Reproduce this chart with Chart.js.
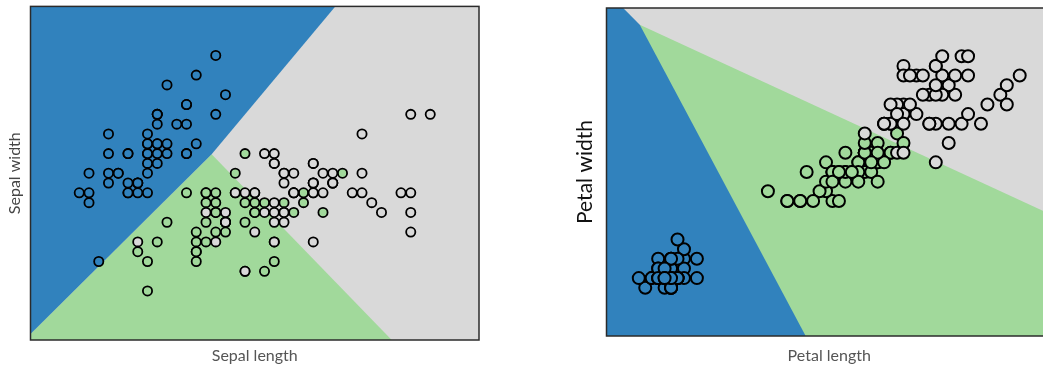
<!DOCTYPE html>
<html>
<head>
<meta charset="utf-8">
<script src="https://cdn.jsdelivr.net/npm/chart.js@4.4.1/dist/chart.umd.min.js"></script>
<style>
  html, body { margin: 0; padding: 0; background: #fff; overflow: hidden; width: 1043px; height: 367px; }
  #sepal { position: absolute; left: 0; top: 0; }
  #petal { position: absolute; left: 560px; top: 0; }
</style>
</head>
<body>
<canvas id="sepal" width="500" height="367"></canvas>
<canvas id="petal" width="500" height="367"></canvas>
<script>
// Iris measurements (cm), one array per species and feature
const setosaSL = [5.1,4.9,4.7,4.6,5.0,5.4,4.6,5.0,4.4,4.9,5.4,4.8,4.8,4.3,5.8,5.7,5.4,5.1,5.7,5.1,5.4,5.1,4.6,5.1,4.8,5.0,5.0,5.2,5.2,4.7,4.8,5.4,5.2,5.5,4.9,5.0,5.5,4.9,4.4,5.1,5.0,4.5,4.4,5.0,5.1,4.8,5.1,4.6,5.3,5.0];
const setosaSW = [3.5,3.0,3.2,3.1,3.6,3.9,3.4,3.4,2.9,3.1,3.7,3.4,3.0,3.0,4.0,4.4,3.9,3.5,3.8,3.8,3.4,3.7,3.6,3.3,3.4,3.0,3.4,3.5,3.4,3.2,3.1,3.4,4.1,4.2,3.1,3.2,3.5,3.1,3.0,3.4,3.5,2.3,3.2,3.5,3.8,3.0,3.8,3.2,3.7,3.3];
const setosaPL = [1.4,1.4,1.3,1.5,1.4,1.7,1.4,1.5,1.4,1.5,1.5,1.6,1.4,1.1,1.2,1.5,1.3,1.4,1.7,1.5,1.7,1.5,1.0,1.7,1.9,1.6,1.6,1.5,1.4,1.6,1.6,1.5,1.5,1.4,1.5,1.2,1.3,1.5,1.3,1.5,1.3,1.3,1.3,1.6,1.9,1.4,1.6,1.4,1.5,1.4];
const setosaPW = [0.2,0.2,0.2,0.2,0.2,0.4,0.3,0.2,0.2,0.1,0.2,0.2,0.1,0.1,0.2,0.4,0.4,0.3,0.3,0.3,0.2,0.4,0.2,0.5,0.2,0.2,0.4,0.2,0.2,0.2,0.2,0.4,0.1,0.2,0.1,0.2,0.2,0.1,0.2,0.2,0.3,0.3,0.2,0.6,0.4,0.3,0.2,0.2,0.2,0.2];

const versicolorSL = [7.0,6.4,6.9,5.5,6.5,5.7,6.3,4.9,6.6,5.2,5.0,5.9,6.0,6.1,5.6,6.7,5.6,5.8,6.2,5.6,5.9,6.1,6.3,6.1,6.4,6.6,6.8,6.7,6.0,5.7,5.5,5.5,5.8,6.0,5.4,6.0,6.7,6.3,5.6,5.5,5.5,6.1,5.8,5.0,5.6,5.7,5.7,6.2,5.1,5.7];
const versicolorSW = [3.2,3.2,3.1,2.3,2.8,2.8,3.3,2.4,2.9,2.7,2.0,3.0,2.2,2.9,2.9,3.1,3.0,2.7,2.2,2.5,3.2,2.8,2.5,2.8,2.9,3.0,2.8,3.0,2.9,2.6,2.4,2.4,2.7,2.7,3.0,3.4,3.1,2.3,3.0,2.5,2.6,3.0,2.6,2.3,2.7,3.0,2.9,2.9,2.5,2.8];
const versicolorPL = [4.7,4.5,4.9,4.0,4.6,4.5,4.7,3.3,4.6,3.9,3.5,4.2,4.0,4.7,3.6,4.4,4.5,4.1,4.5,3.9,4.8,4.0,4.9,4.7,4.3,4.4,4.8,5.0,4.5,3.5,3.8,3.7,3.9,5.1,4.5,4.5,4.7,4.4,4.1,4.0,4.4,4.6,4.0,3.3,4.2,4.2,4.2,4.3,3.0,4.1];
const versicolorPW = [1.4,1.5,1.5,1.3,1.5,1.3,1.6,1.0,1.3,1.4,1.0,1.5,1.0,1.4,1.3,1.4,1.5,1.0,1.5,1.1,1.8,1.3,1.5,1.2,1.3,1.4,1.4,1.7,1.5,1.0,1.1,1.0,1.2,1.6,1.5,1.6,1.5,1.3,1.3,1.3,1.2,1.4,1.2,1.0,1.3,1.2,1.3,1.3,1.1,1.3];

const virginicaSL = [6.3,5.8,7.1,6.3,6.5,7.6,4.9,7.3,6.7,7.2,6.5,6.4,6.8,5.7,5.8,6.4,6.5,7.7,7.7,6.0,6.9,5.6,7.7,6.3,6.7,7.2,6.2,6.1,6.4,7.2,7.4,7.9,6.4,6.3,6.1,7.7,6.3,6.4,6.0,6.9,6.7,6.9,5.8,6.8,6.7,6.7,6.3,6.5,6.2,5.9];
const virginicaSW = [3.3,2.7,3.0,2.9,3.0,3.0,2.5,2.9,2.5,3.6,3.2,2.7,3.0,2.5,2.8,3.2,3.0,3.8,2.6,2.2,3.2,2.8,2.8,2.7,3.3,3.2,2.8,3.0,2.8,3.0,2.8,3.8,2.8,2.8,2.6,3.0,3.4,3.1,3.0,3.1,3.1,3.1,2.7,3.2,3.3,3.0,2.5,3.0,3.4,3.0];
const virginicaPL = [6.0,5.1,5.9,5.6,5.8,6.6,4.5,6.3,5.8,6.1,5.1,5.3,5.5,5.0,5.1,5.3,5.5,6.7,6.9,5.0,5.7,4.9,6.7,4.9,5.7,6.0,4.8,4.9,5.6,5.8,6.1,6.4,5.6,5.1,5.6,6.1,5.6,5.5,4.8,5.4,5.6,5.1,5.1,5.9,5.7,5.2,5.0,5.2,5.4,5.1];
const virginicaPW = [2.5,1.9,2.1,1.8,2.2,2.1,1.7,1.8,1.8,2.5,2.0,1.9,2.1,2.0,2.4,2.3,1.8,2.2,2.3,1.5,2.3,2.0,2.0,1.8,2.1,1.8,1.8,1.8,2.1,1.6,1.9,2.0,2.2,1.5,1.4,2.3,2.4,1.8,1.8,2.1,2.4,2.3,1.9,2.3,2.5,2.3,1.9,2.0,2.3,1.8];

// Axis ranges
const sepalRangeX = [3.8, 8.4];
const sepalRangeY = [1.5, 4.9];
const petalRangeX = [0.5, 7.4];
const petalRangeY = [-0.4, 3.0];

// Decision-region boundaries (data units)
const sepalSetosaEdge = [[3.8, 1.56], [5.658, 3.392], [6.926, 4.9]];     // filled upward
const sepalVersicolorEdge = [[3.8, 1.56], [5.658, 3.392], [7.505, 1.5]]; // filled downward
const petalSetosaEdge = [[0.5, 3.0], [0.758, 3.0], [1.015, 2.826], [3.585, -0.4]]; // filled downward
const petalVersicolorEdge = [[1.015, 2.826], [7.4, 0.853]];             // filled downward

const colors = { setosa: '#3182bd', versicolor: '#a1d99b', virginica: '#d9d9d9' };

const pts = (xs, ys) => xs.map((x, i) => ({ x, y: ys[i] }));
const poly = (arr) => arr.map(([x, y]) => ({ x, y }));

function region(data, color, fill, order) {
  return {
    type: 'line', data, fill, order,
    backgroundColor: color, borderColor: 'transparent', borderWidth: 0,
    pointRadius: 0, pointHoverRadius: 0, tension: 0
  };
}
function points(data, color, radius, border, order) {
  return {
    type: 'scatter', data, order,
    backgroundColor: color, borderColor: '#000', borderWidth: border,
    pointRadius: radius, pointHoverRadius: radius
  };
}

const framePlugin = {
  id: 'frame',
  afterDatasetsDraw(chart) {
    const { ctx, chartArea: a } = chart;
    ctx.save();
    ctx.strokeStyle = '#2b2b2b';
    ctx.lineWidth = 1.5;
    ctx.strokeRect(a.left, a.top, a.right - a.left, a.bottom - a.top);
    ctx.restore();
  }
};

function scale(range, title, font, color, pad, box, horizontal) {
  return {
    type: 'linear', min: range[0], max: range[1],
    ticks: { display: false },
    grid: { display: false, drawTicks: false },
    border: { display: false },
    title: { display: true, text: title, color, font, padding: pad },
    afterFit(s) { if (horizontal) s.height = box; else s.width = box; }
  };
}

function makeChart(id, rangeX, rangeY, datasets, xTitle, yTitle, layoutPad, xBox, yBox) {
  return new Chart(document.getElementById(id), {
    type: 'scatter',
    data: { datasets },
    options: {
      responsive: false,
      animation: false,
      events: [],
      layout: { padding: layoutPad },
      plugins: { legend: { display: false }, tooltip: { enabled: false } },
      scales: {
        x: scale(rangeX, xTitle.text, xTitle.font, xTitle.color, xTitle.pad, xBox, true),
        y: scale(rangeY, yTitle.text, yTitle.font, yTitle.color, yTitle.pad, yBox, false)
      }
    },
    plugins: [framePlugin]
  });
}

const full = (r, ry) => [{ x: r[0], y: ry[1] }, { x: r[1], y: ry[1] }];

// Sepal length vs sepal width
makeChart('sepal', sepalRangeX, sepalRangeY, [
  region(full(sepalRangeX, sepalRangeY), colors.virginica, 'start', 30),
  region(poly(sepalVersicolorEdge), colors.versicolor, 'start', 29),
  region(poly(sepalSetosaEdge), colors.setosa, 'end', 28),
  points(pts(setosaSL, setosaSW), colors.setosa, 4.6, 1.8, 3),
  points(pts(versicolorSL, versicolorSW), colors.versicolor, 4.6, 1.8, 2),
  points(pts(virginicaSL, virginicaSW), colors.virginica, 4.6, 1.8, 1)
],
{ text: 'Sepal length', font: { family: 'Lato', size: 16 }, color: '#555', pad: 1.4 },
{ text: 'Sepal width', font: { family: 'Lato', size: 16 }, color: '#444', pad: 5 },
{ top: 4.5, right: 21, bottom: 0, left: 0 }, 27, 30.5);

// Petal length vs petal width
makeChart('petal', petalRangeX, petalRangeY, [
  region(full(petalRangeX, petalRangeY), colors.virginica, 'start', 30),
  region(poly(petalVersicolorEdge), colors.versicolor, 'start', 29),
  region(poly(petalSetosaEdge), colors.setosa, 'start', 28),
  points(pts(setosaPL, setosaPW), colors.setosa, 6, 2, 3),
  points(pts(versicolorPL, versicolorPW), colors.versicolor, 6, 2, 2),
  points(pts(virginicaPL, virginicaPW), colors.virginica, 6, 2, 1)
],
{ text: 'Petal length', font: { family: 'Lato', size: 16 }, color: '#555', pad: 1.4 },
{ text: 'Petal width', font: { family: 'Lato', size: 21 }, color: '#111', pad: 12.9 },
{ top: 3, right: 5.2, bottom: 0, left: 0 }, 31, 46.5);
</script>
</body>
</html>
